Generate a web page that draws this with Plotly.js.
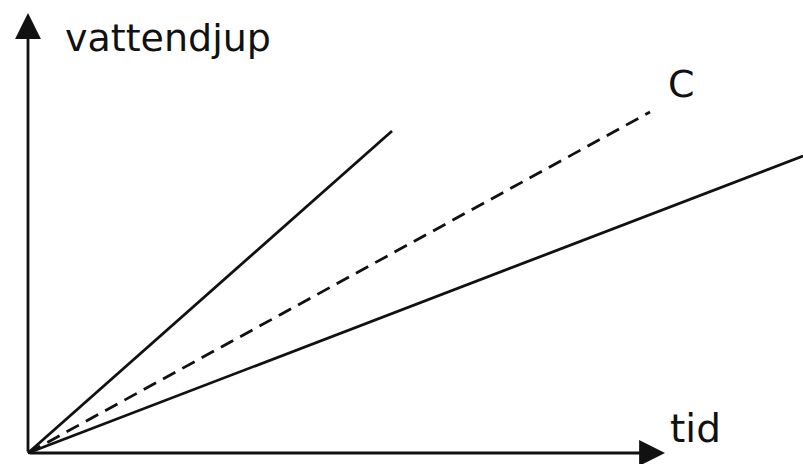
<!DOCTYPE html>
<html>
<head>
<meta charset="utf-8">
<script src="https://cdn.plot.ly/plotly-3.0.1.min.js"></script>
<style>
  html, body { margin: 0; padding: 0; background: #fff; }
  #plot { width: 803px; height: 464px; }
</style>
</head>
<body>
<div id="plot"></div>
<script>
// sketch: water depth vs time, three straight lines from the origin
let tidA = [0, 364];
let djupA = [0, 322];

let tidC = [0, 622];
let djupC = [0, 341];

let tidB = [0, 775];
let djupB = [0, 297];

// where the axis arrows end
let tidMax = 637;
let djupMax = 440;

let lineStyle = {color: "#111", width: 2.8};

let traceA = {x: tidA, y: djupA, mode: "lines", line: lineStyle, hoverinfo: "skip"};
let traceC = {x: tidC, y: djupC, mode: "lines", line: {color: "#111", width: 2.8, dash: "14px,8px"}, hoverinfo: "skip"};
let traceB = {x: tidB, y: djupB, mode: "lines", line: lineStyle, hoverinfo: "skip"};

let font = {family: "DejaVu Sans", size: 38, color: "#111"};

let arrow = {
  text: "", showarrow: true, arrowhead: 2, arrowsize: 1.85, arrowwidth: 2.8,
  arrowcolor: "#111", xref: "x", yref: "y", axref: "x", ayref: "y", ax: 0, ay: 0
};

let layout = {
  width: 803,
  height: 464,
  margin: {l: 0, r: 0, t: 0, b: 0},
  paper_bgcolor: "#fff",
  plot_bgcolor: "#fff",
  showlegend: false,
  xaxis: {range: [-28, 775], visible: false, fixedrange: true},
  yaxis: {range: [-11, 453], visible: false, fixedrange: true},
  annotations: [
    Object.assign({}, arrow, {x: 0, y: djupMax}),
    Object.assign({}, arrow, {x: tidMax, y: 0}),
    {text: "vattendjup", x: 35, y: 415, xref: "x", yref: "y", xanchor: "left", yanchor: "middle", showarrow: false, font: font},
    {text: "C", x: 638, y: 369, xref: "x", yref: "y", xanchor: "left", yanchor: "middle", showarrow: false, font: font},
    {text: "tid", x: 640, y: 25, xref: "x", yref: "y", xanchor: "left", yanchor: "middle", showarrow: false, font: {family: "DejaVu Sans", size: 39, color: "#111"}}
  ]
};

Plotly.newPlot("plot", [traceA, traceC, traceB], layout, {displayModeBar: false, staticPlot: true});
</script>
</body>
</html>
